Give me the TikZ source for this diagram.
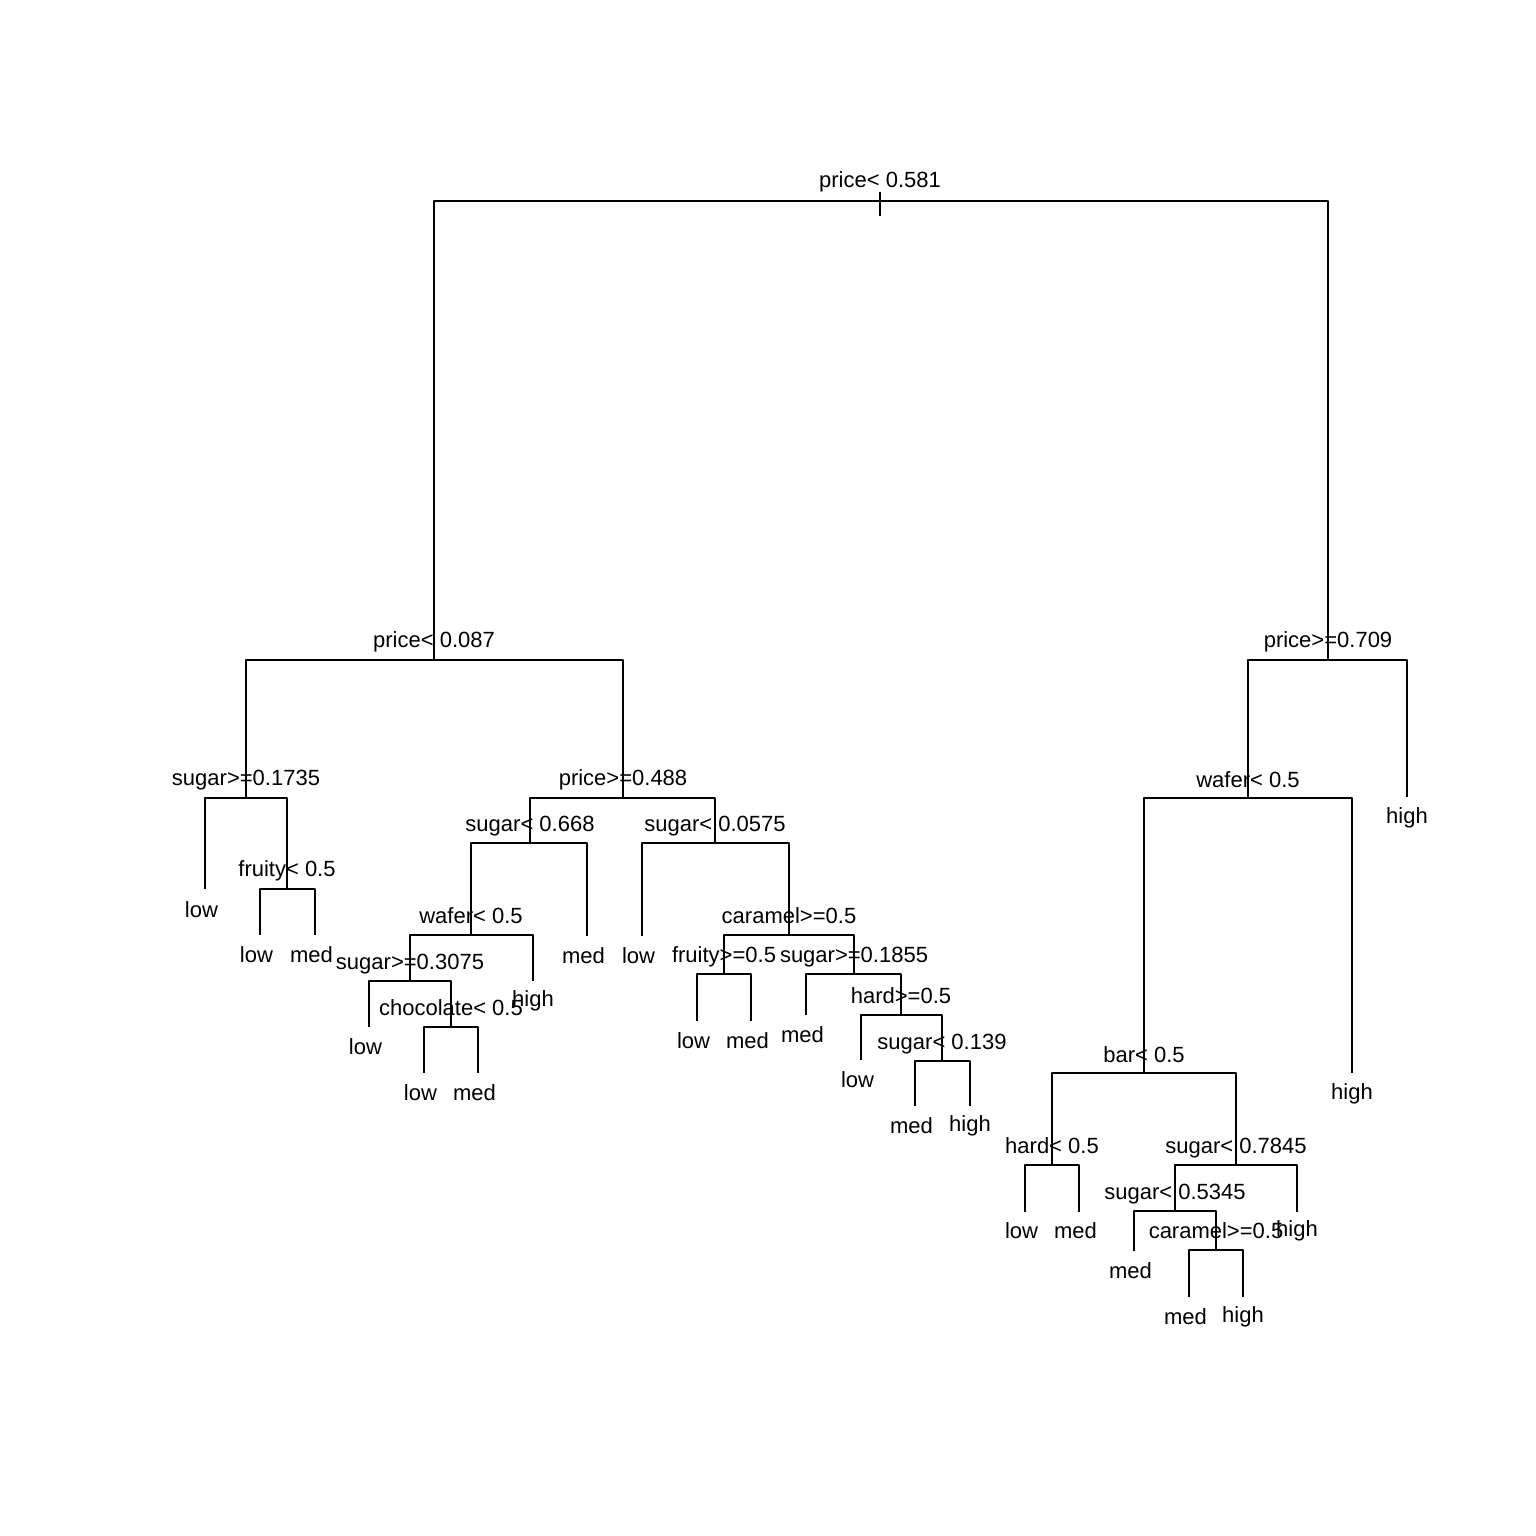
\documentclass[tikz,border=0pt]{standalone}
\usepackage{fontspec}
\setmainfont{Liberation Sans}
\begin{document}
\begin{tikzpicture}[x=1pt,y=-1pt,
  branch/.style={line width=2pt,line join=round},
  splitlab/.style={anchor=base,inner sep=0pt,font=\fontsize{22}{26}\selectfont},
  leaflab/.style={anchor=base,inner sep=0pt,font=\fontsize{22}{26}\selectfont,xshift=-3.5pt},
  highlab/.style={anchor=base,inner sep=0pt,font=\fontsize{22}{26}\selectfont}]
\useasboundingbox[fill=white] (0,0) rectangle (1536,1536);
% split points
\coordinate (r) at (880,201);
\coordinate (a) at (434,660);
\coordinate (b) at (1328,660);
\coordinate (a1) at (246,798);
\coordinate (a1l) at (205,889);
\coordinate (a1r) at (287,889);
\coordinate (a1rl) at (260,935);
\coordinate (a1rr) at (315,935);
\coordinate (a2) at (623,798);
\coordinate (a2a) at (530,843);
\coordinate (wa) at (471,935);
\coordinate (sg) at (410,981);
\coordinate (sgl) at (369,1027);
\coordinate (ch) at (451,1027);
\coordinate (chl) at (424,1073);
\coordinate (chr) at (478,1073);
\coordinate (wah) at (533,981);
\coordinate (a2am) at (587,936);
\coordinate (a2b) at (715,843);
\coordinate (a2bl) at (642,936);
\coordinate (ca) at (789,935);
\coordinate (fr) at (724,974);
\coordinate (frl) at (697,1021);
\coordinate (frr) at (751,1021);
\coordinate (s18) at (854,974);
\coordinate (s18m) at (806,1015);
\coordinate (hd) at (901,1015);
\coordinate (hdl) at (861,1060);
\coordinate (s13) at (942,1061);
\coordinate (s13m) at (915,1106);
\coordinate (s13h) at (970,1106);
\coordinate (bw) at (1248,798);
\coordinate (bh) at (1407,797);
\coordinate (bar) at (1144,1073);
\coordinate (bwh) at (1352,1073);
\coordinate (hd2) at (1052,1165);
\coordinate (hd2l) at (1025,1212);
\coordinate (hd2r) at (1079,1212);
\coordinate (s78) at (1236,1165);
\coordinate (s78h) at (1297,1212);
\coordinate (s53) at (1175,1211);
\coordinate (s53m) at (1134,1251);
\coordinate (ca2) at (1216,1250);
\coordinate (ca2m) at (1189,1297);
\coordinate (ca2h) at (1243,1297);
\coordinate (rtop) at (880,192);
\coordinate (rbot) at (880,216);
% branches
\draw[branch] (rtop) -- (rbot);
\draw[branch] (a) |- (r) -| (b);
\draw[branch] (a1) |- (a) -| (a2);
\draw[branch] (a1l) |- (a1) -| (a1r);
\draw[branch] (a1rl) |- (a1r) -| (a1rr);
\draw[branch] (a2a) |- (a2) -| (a2b);
\draw[branch] (wa) |- (a2a) -| (a2am);
\draw[branch] (sg) |- (wa) -| (wah);
\draw[branch] (sgl) |- (sg) -| (ch);
\draw[branch] (chl) |- (ch) -| (chr);
\draw[branch] (a2bl) |- (a2b) -| (ca);
\draw[branch] (fr) |- (ca) -| (s18);
\draw[branch] (frl) |- (fr) -| (frr);
\draw[branch] (s18m) |- (s18) -| (hd);
\draw[branch] (hdl) |- (hd) -| (s13);
\draw[branch] (s13m) |- (s13) -| (s13h);
\draw[branch] (bw) |- (b) -| (bh);
\draw[branch] (bar) |- (bw) -| (bwh);
\draw[branch] (hd2) |- (bar) -| (s78);
\draw[branch] (hd2l) |- (hd2) -| (hd2r);
\draw[branch] (s53) |- (s78) -| (s78h);
\draw[branch] (s53m) |- (s53) -| (ca2);
\draw[branch] (ca2m) |- (ca2) -| (ca2h);
% split labels
\node[splitlab] (tr) at ([yshift=14pt]r) {price< 0.581};
\node[splitlab] (ta) at ([yshift=13pt]a) {price< 0.087};
\node[splitlab] (tb) at ([yshift=13pt]b) {price>=0.709};
\node[splitlab] (ta1) at ([yshift=13pt]a1) {sugar>=0.1735};
\node[splitlab] (ta1r) at ([yshift=13pt]a1r) {fruity< 0.5};
\node[splitlab] (ta2) at ([yshift=13pt]a2) {price>=0.488};
\node[splitlab] (ta2a) at ([yshift=12pt]a2a) {sugar< 0.668};
\node[splitlab] (twa) at ([yshift=12pt]wa) {wafer< 0.5};
\node[splitlab] (tsg) at ([yshift=12pt]sg) {sugar>=0.3075};
\node[splitlab] (tch) at ([yshift=12pt]ch) {chocolate< 0.5};
\node[splitlab] (ta2b) at ([yshift=12pt]a2b) {sugar< 0.0575};
\node[splitlab] (tca) at ([yshift=12pt]ca) {caramel>=0.5};
\node[splitlab] (tfr) at ([yshift=12pt]fr) {fruity>=0.5};
\node[splitlab] (ts18) at ([yshift=12pt]s18) {sugar>=0.1855};
\node[splitlab] (thd) at ([yshift=12pt]hd) {hard>=0.5};
\node[splitlab] (ts13) at ([yshift=12pt]s13) {sugar< 0.139};
\node[splitlab] (tbw) at ([yshift=11pt]bw) {wafer< 0.5};
\node[splitlab] (tbar) at ([yshift=11pt]bar) {bar< 0.5};
\node[splitlab] (thd2) at ([yshift=12pt]hd2) {hard< 0.5};
\node[splitlab] (ts78) at ([yshift=12pt]s78) {sugar< 0.7845};
\node[splitlab] (ts53) at ([yshift=12pt]s53) {sugar< 0.5345};
\node[splitlab] (tca2) at ([yshift=12pt]ca2) {caramel>=0.5};
% leaf labels
\node[leaflab] (la1l) at ([yshift=-28pt]a1l) {low};
\node[leaflab] (la1rl) at ([yshift=-27pt]a1rl) {low};
\node[leaflab] (la1rr) at ([yshift=-27pt]a1rr) {med};
\node[leaflab] (lsgl) at ([yshift=-27pt]sgl) {low};
\node[leaflab] (lchl) at ([yshift=-27pt]chl) {low};
\node[leaflab] (lchr) at ([yshift=-27pt]chr) {med};
\node[highlab] (lwah) at ([yshift=-25pt]wah) {high};
\node[leaflab] (la2am) at ([yshift=-27pt]a2am) {med};
\node[leaflab] (la2bl) at ([yshift=-27pt]a2bl) {low};
\node[leaflab] (lfrl) at ([yshift=-27pt]frl) {low};
\node[leaflab] (lfrr) at ([yshift=-27pt]frr) {med};
\node[leaflab] (ls18m) at ([yshift=-27pt]s18m) {med};
\node[leaflab] (lhdl) at ([yshift=-27pt]hdl) {low};
\node[leaflab] (ls13m) at ([yshift=-27pt]s13m) {med};
\node[highlab] (ls13h) at ([yshift=-25pt]s13h) {high};
\node[highlab] (lbh) at ([yshift=-26pt]bh) {high};
\node[highlab] (lbwh) at ([yshift=-26pt]bwh) {high};
\node[leaflab] (lhd2l) at ([yshift=-26pt]hd2l) {low};
\node[leaflab] (lhd2r) at ([yshift=-26pt]hd2r) {med};
\node[highlab] (ls78h) at ([yshift=-24pt]s78h) {high};
\node[leaflab] (ls53m) at ([yshift=-27pt]s53m) {med};
\node[leaflab] (lca2m) at ([yshift=-27pt]ca2m) {med};
\node[highlab] (lca2h) at ([yshift=-25pt]ca2h) {high};
\end{tikzpicture}
\end{document}
